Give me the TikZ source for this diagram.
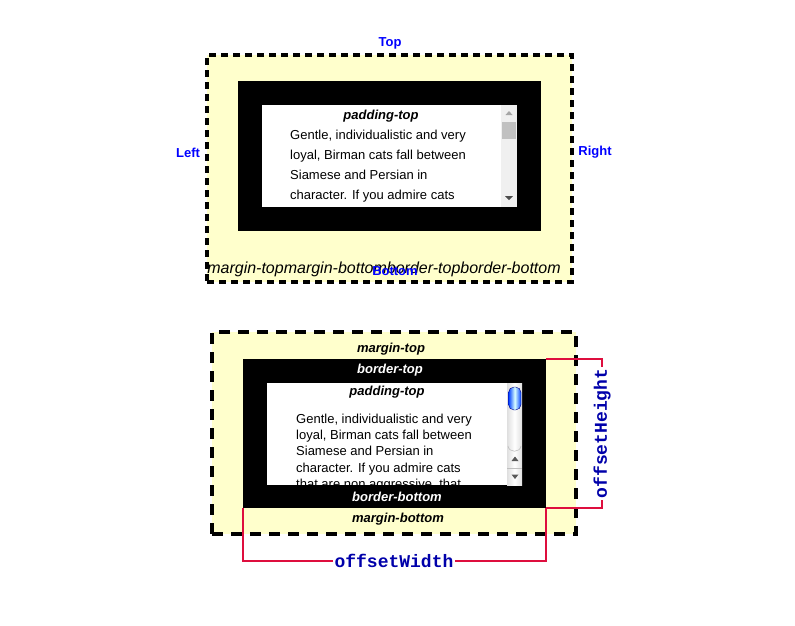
\documentclass[tikz,border=0pt]{standalone}
\usepackage{fontspec}
\setmainfont{Liberation Sans}
\setmonofont{Liberation Mono}
\usetikzlibrary{positioning,calc}

\definecolor{marginyellow}{RGB}{255,255,204}
\definecolor{offsetred}{RGB}{222,14,62}
\definecolor{offsetblue}{RGB}{0,0,170}
\definecolor{trackgray}{RGB}{240,240,240}
\definecolor{thumbgray}{RGB}{193,193,193}

\tikzset{
  marginbox/.style={fill=marginyellow, draw=black, line width=4pt, inner sep=0pt},
  borderbox/.style={fill=black, inner sep=0pt},
  contentbox/.style={fill=white, inner sep=0pt},
  side/.style={text=blue, font=\fontsize{13}{15}\selectfont\bfseries},
  boxlabel/.style={font=\fontsize{13}{15}\selectfont\bfseries\itshape, inner sep=0pt},
  paraline/.style={anchor=base west, inner sep=0pt, font=\fontsize{13}{16}\selectfont},
  offsetline/.style={draw=offsetred, line width=2pt},
  offsetlabel/.style={fill=white, text=offsetblue, font=\fontsize{18}{20}\selectfont\ttfamily\bfseries, inner sep=2pt},
}

\begin{document}
\begin{tikzpicture}[x=1pt,y=-1pt]
  \useasboundingbox (0,0) rectangle (795,625);

  % first box, as drawn
  \node[marginbox, dash pattern=on 7pt off 5pt, minimum width=365pt, minimum height=227pt] (margin1) at (389.5,168.5) {};
  \node[borderbox, minimum width=303pt, minimum height=150pt] (border1) at (389.5,156) {};
  \node[contentbox, minimum width=255pt, minimum height=102pt] (content1) at (389.5,156) {};
  \fill[trackgray] (501,105) rectangle (517,207);
  \fill[thumbgray] (502,122) rectangle (516,139);
  \fill[gray!70] (505.5,115) -- (512.5,115) -- (509,111) -- cycle;
  \fill[black!70] (505,196) -- (513,196) -- (509,200) -- cycle;
  \node[boxlabel] (pad1) at (381,116.5) {padding-top};
  \foreach \txt [count=\i] in {{Gentle, individualistic and very}, {loyal, Birman cats fall between}, {Siamese and Persian in}, {character. If you admire cats}}
    \node[paraline] (text1-\i) at (290,119.5+20*\i) {\txt};
  \node[font=\fontsize{16}{18}\selectfont\itshape, inner sep=0pt] (marginlist) at (384,269) {margin-topmargin-bottomborder-topborder-bottom};
  \node[side] (top) at (390,43.5) {Top};
  \node[side] (left) at (188,152.5) {Left};
  \node[side] (right) at (595,152.5) {Right};
  \node[side] (bottom) at (395,271.5) {Bottom};

  % second box, with offsets
  \node[marginbox, dash pattern=on 11pt off 8pt, minimum width=364pt, minimum height=202pt] (margin2) at (394,433) {};
  \node[borderbox, minimum width=303pt, minimum height=149pt] (border2) at (394.5,433.5) {};
  \node[contentbox, minimum width=255pt, minimum height=102pt] (content2) at (394.5,434) {};
  \shade[left color=gray!25, right color=gray!25, middle color=white] (507,383) rectangle (522,485);
  \draw[gray!50, line width=0.6pt] (508,446) .. controls (509,453) and (520,453) .. (521,446);
  \shade[left color=blue!75!cyan, right color=blue!75!cyan, middle color=cyan!15, draw=blue!50!black, rounded corners=5.5pt] (508.5,387) rectangle (521,410);
  \draw[gray!50] (507,468) -- (522,468);
  \fill[gray!70!black] (511.5,461) -- (518.5,461) -- (515,456.5) -- cycle;
  \fill[gray!70!black] (511.5,474.5) -- (518.5,474.5) -- (515,479) -- cycle;
  \node[boxlabel] (mt) at (391,349.5) {margin-top};
  \node[boxlabel, text=white] (bt) at (390,370.5) {border-top};
  \node[boxlabel] (pad2) at (387,392.5) {padding-top};
  \node[boxlabel, text=white] (bb) at (397,497) {border-bottom};
  \node[boxlabel] (mb) at (398,519.5) {margin-bottom};
  \begin{scope}
    \clip (content2.north west) rectangle (content2.south east);
    \foreach \txt [count=\i] in {{Gentle, individualistic and very}, {loyal, Birman cats fall between}, {Siamese and Persian in}, {character. If you admire cats}, {that are non aggressive, that}}
      \node[paraline] (text2-\i) at (296,407.3+16.2*\i) {\txt};
  \end{scope}

  \coordinate (hgt) at (602,433.5);
  \draw[offsetline] (border2.north east) -| (hgt) |- (border2.south east);
  \node[offsetlabel, rotate=90] (hlabel) at (hgt) {offsetHeight};
  \coordinate (wdt) at (394,561);
  \draw[offsetline] (border2.south west) |- (wdt) -| (border2.south east);
  \node[offsetlabel] (wlabel) at (wdt) {offsetWidth};
\end{tikzpicture}
\end{document}
